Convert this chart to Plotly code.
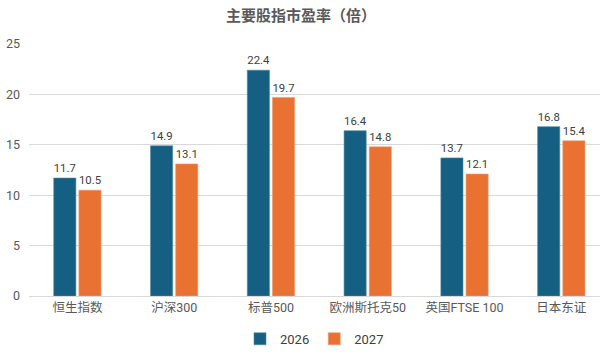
import plotly.graph_objects as go

categories = ["恒生指数", "沪深300", "标普500", "欧洲斯托克50", "英国FTSE 100", "日本东证"]
pe_2026 = [11.7, 14.9, 22.4, 16.4, 13.7, 16.8]
pe_2027 = [10.5, 13.1, 19.7, 14.8, 12.1, 15.4]
series_names = ["2026", "2027"]

FONT = "Roboto, 'Noto Sans CJK SC', sans-serif"
TXT = "#595959"

fig = go.Figure()
fig.add_trace(go.Bar(
    x=categories, y=pe_2026, name=series_names[0],
    marker=dict(color="#156082", line=dict(color="#4F87A3", width=0.6)),
    text=[f"{v:.1f}" for v in pe_2026], textposition="outside",
    textfont=dict(size=12.5, color="#404040", family=FONT), cliponaxis=False,
))
fig.add_trace(go.Bar(
    x=categories, y=pe_2027, name=series_names[1],
    marker=dict(color="#E97132", line=dict(color="#F09A6C", width=0.6)),
    text=[f"{v:.1f}" for v in pe_2027], textposition="outside",
    textfont=dict(size=12.5, color="#404040", family=FONT), cliponaxis=False,
))

fig.update_layout(
    width=602, height=357,
    margin=dict(l=29, r=2, t=44, b=61),
    paper_bgcolor="white", plot_bgcolor="white",
    font=dict(family=FONT, size=12, color=TXT),
    title=dict(text="<b>主要股指市盈率（倍）</b>", x=0.5, xanchor="center",
               y=1 - 16 / 357, yanchor="middle",
               font=dict(size=15, color=TXT, family=FONT)),
    barmode="group", bargap=0.48, bargroupgap=0.12,
    showlegend=True,
    legend=dict(orientation="h", x=0.5, xanchor="center", y=-0.17, yanchor="middle",
                font=dict(size=13, color="#404040"), itemwidth=30,
                traceorder="normal"),
    xaxis=dict(range=[-0.5, 5.4], showgrid=False, showline=True, linecolor="#D9D9D9",
               linewidth=1, ticks="", tickfont=dict(size=12.5, color=TXT)),
    yaxis=dict(range=[0, 25], dtick=5, showgrid=True, gridcolor="#D9D9D9", gridwidth=1,
               zeroline=False, showline=False, ticks="", tickfont=dict(size=12.5, color=TXT),
               ticklabelstandoff=8),
)

fig.write_html("out.html", config={"displayModeBar": False},
               post_script="document.body.style.margin='0';")
